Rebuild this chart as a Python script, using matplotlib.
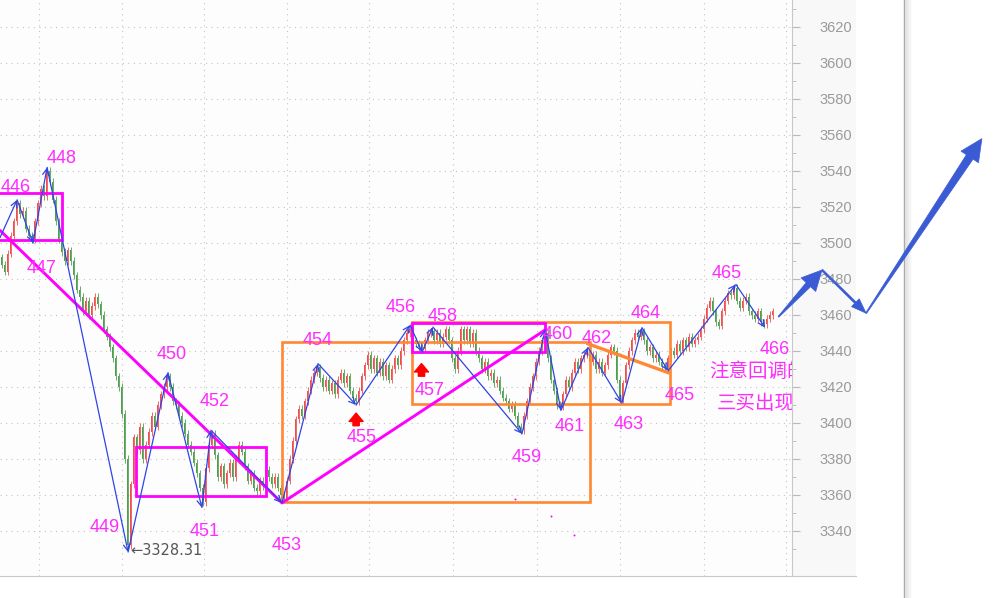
import matplotlib
matplotlib.use("Agg")
from matplotlib import pyplot as plt
from matplotlib.patches import Rectangle, Polygon
from matplotlib.lines import Line2D
import numpy as np

# candle closes, one per bar (bar step ~3px)
closes = [3488, 3484, 3494, 3504, 3512, 3522, 3516, 3518, 3508, 3504,
          3502, 3512, 3522, 3530, 3526, 3540, 3534, 3524, 3512, 3502,
          3495, 3490, 3496, 3490, 3482, 3474, 3470, 3462, 3468, 3460,
          3465, 3470, 3466, 3460, 3452, 3448, 3442, 3436, 3426, 3420,
          3405, 3380, 3332, 3366, 3392, 3385, 3398, 3380, 3388, 3395,
          3404, 3398, 3410, 3416, 3420, 3426, 3420, 3412, 3410, 3404,
          3400, 3394, 3388, 3384, 3378, 3372, 3364, 3356, 3375, 3388,
          3394, 3382, 3370, 3376, 3366, 3372, 3378, 3370, 3380, 3388,
          3384, 3376, 3368, 3372, 3364, 3362, 3368, 3365, 3374, 3370,
          3366, 3370, 3364, 3360, 3358, 3368, 3380, 3390, 3402, 3408,
          3404, 3412, 3418, 3424, 3428, 3431, 3425, 3420, 3424, 3418,
          3422, 3416, 3424, 3428, 3422, 3426, 3418, 3414, 3412, 3418,
          3426, 3432, 3438, 3430, 3436, 3428, 3434, 3426, 3432, 3424,
          3430, 3436, 3432, 3440, 3446, 3450, 3452, 3446, 3444, 3442,
          3441, 3446, 3450, 3451, 3446, 3450, 3444, 3448, 3452, 3446,
          3436, 3430, 3440, 3452, 3446, 3452, 3444, 3450, 3440, 3436,
          3430, 3434, 3426, 3428, 3422, 3424, 3418, 3414, 3412, 3408,
          3410, 3404, 3398, 3396, 3404, 3412, 3420, 3426, 3434, 3440,
          3446, 3450, 3436, 3424, 3418, 3410, 3409, 3416, 3424, 3420,
          3428, 3434, 3430, 3436, 3438, 3440, 3434, 3438, 3430, 3434,
          3428, 3432, 3438, 3442, 3440, 3424, 3413, 3422, 3432, 3440,
          3446, 3450, 3448, 3451, 3446, 3440, 3442, 3436, 3438, 3434,
          3432, 3431, 3436, 3440, 3438, 3444, 3440, 3446, 3442, 3448,
          3444, 3446, 3448, 3452, 3458, 3464, 3468, 3462, 3456, 3454,
          3462, 3468, 3472, 3471, 3475, 3468, 3464, 3468, 3470, 3462,
          3460, 3458, 3462, 3456, 3455, 3458, 3460, 3462]
first_open = 3492

# zigzag pivots (bar, price) and labels
zz_x = [-0.5, 5.2, 10.5, 15.2, 42.2, 55.5, 66.8, 69.8, 93.5, 105.5, 118.2, 136.2,
        140.2, 143.8, 173.5, 181.2, 186.5, 195.5, 206.8, 213.5, 222.2, 244.8, 254.5]
zz_y = [3503, 3524, 3500, 3542, 3328.3, 3428, 3353, 3396, 3355.6, 3433, 3410, 3454.4,
        3439.4, 3453.3, 3394, 3451.7, 3407, 3442, 3411, 3453, 3429, 3477, 3453]

labels = ["446", "448", "447", "449", "450", "452", "451", "453", "454", "455", "456",
          "458", "457", "459", "460", "461", "462", "463", "464", "465", "465", "466"]
label_x = [4.8, 20.2, 13.2, 34.5, 56.8, 71.2, 67.8, 95.2, 105.5, 120.2, 133.2,
           147.2, 142.8, 175.2, 185.5, 189.5, 198.5, 209.2, 214.8, 226.2, 241.8, 257.8]
label_y = [3531, 3546.7, 3486, 3342.2, 3437.8, 3412.2, 3340, 3332.2, 3446.1, 3392.2, 3464.4,
           3459.4, 3417.8, 3380.6, 3449.4, 3397.8, 3447.2, 3398.9, 3461.1, 3415, 3483.3, 3440.6]

# segment lines
seg_x = [-0.5, 93.5, 181.2]
seg_y = [3507, 3355.6, 3451.7]
seg2_x = [195.5, 222.2]
seg2_y = [3444, 3428]

# central boxes: x0, x1, y0, y1
pink_boxes = [(-1, 20.2, 3501.7, 3527.8), (44.8, 88.2, 3359.4, 3386.7),
              (136.8, 181.2, 3439.4, 3455.6)]
orange_boxes = [(93.5, 196.2, 3356, 3445), (136.8, 222.8, 3410.6, 3456)]

buy_x = [118.2, 140.0]
buy_y = [3405.5, 3433.0]

dots_x = [171.2, 183.2, 190.8]
dots_y = [3357.8, 3348.3, 3337.8]

# projected path
proj_x = [259, 273.5, 288.2, 326.8]
proj_y = [3459, 3485, 3461, 3558]

low_x, low_y, low_text = 43.0, 3328.9, "\u2190" + "3328.31"

yticks = list(range(3340, 3621, 20))
xgrid = [12.5, 40, 67.5, 95, 122.5, 150.5, 178.5, 206, 234, 261.5]

MAG = "#ff00ff"
MAG_TXT = "#ff2cff"
ORG = "#ff8833"
BLUE = "#2f44e6"
ARROW_BLUE = "#3a5bd3"

W, H = 1002, 598
fig = plt.figure(figsize=(W / 100, H / 100), dpi=100)
fig.patch.set_facecolor("white")
fig.patches.append(Rectangle((0, 22 / H), 856 / W, 576 / H, transform=fig.transFigure,
                             fc="#f8f8f8", ec="none", zorder=-10))
ax = fig.add_axes([0, 22 / H, 792 / W, 576 / H])
ax.set_facecolor("#fdfdfd")
ax.set_xlim(-0.5, 263.5)
ax.set_ylim(3315, 3635)

# grid
for v in yticks:
    ax.axhline(v, color="#c4c4c4", lw=0.8, ls=(0, (1, 4)), zorder=0)
for g in xgrid:
    ax.axvline(g, color="#c4c4c4", lw=0.8, ls=(0, (1, 4)), zorder=0)

# candles
opens = [first_open] + closes[:-1]
for i, (o, c) in enumerate(zip(opens, closes)):
    col = "#ef4f4f" if c >= o else "#4f9f4f"
    lo, hi = min(o, c), max(o, c)
    ax.vlines(i, lo - 2, hi + 2, color=col, lw=0.6, zorder=2)
    ax.bar(i, max(hi - lo, 0.8), bottom=lo, width=0.6, color=col, lw=0, zorder=2)

# boxes
for x0, x1, y0, y1 in orange_boxes:
    ax.add_patch(Rectangle((x0, y0), x1 - x0, y1 - y0, fill=False, ec=ORG, lw=1.9, zorder=3))
for x0, x1, y0, y1 in pink_boxes:
    ax.add_patch(Rectangle((x0, y0), x1 - x0, y1 - y0, fill=False, ec=MAG, lw=2.0, zorder=3))

ax.plot(seg_x, seg_y, color=MAG, lw=2.1, zorder=4, solid_capstyle="round")
ax.plot(seg2_x, seg2_y, color=ORG, lw=2.4, zorder=4)

# zigzag strokes
for i in range(len(zz_x) - 1):
    ax.annotate("", xy=(zz_x[i + 1], zz_y[i + 1]), xytext=(zz_x[i], zz_y[i]),
                arrowprops=dict(arrowstyle="->,head_length=0.45,head_width=0.22",
                                color=BLUE, lw=0.9, shrinkA=0, shrinkB=0), zorder=5)

for t, x, y in zip(labels, label_x, label_y):
    ax.text(x, y, t, color=MAG_TXT, fontsize=13, family="Liberation Sans",
            ha="center", va="center", zorder=6)

ax.text(235.8, 3428.9, "注意回调的", color=MAG_TXT, fontsize=14, family=["Noto Sans CJK SC"],
        ha="left", va="center", zorder=6, clip_on=True)
ax.text(238.4, 3411.1, "三买出现.", color=MAG_TXT, fontsize=14, family=["Noto Sans CJK SC"],
        ha="left", va="center", zorder=6, clip_on=True)

ax.text(low_x, low_y, low_text, color="#555555", fontsize=10.5, family=["DejaVu Sans"],
        ha="left", va="center", zorder=6)

for x, y in zip(buy_x, buy_y):
    ax.annotate("", xy=(x, y), xytext=(x, y - 7),
                arrowprops=dict(arrowstyle="simple,head_length=0.6,head_width=1.0,tail_width=0.45",
                                fc="#ff0000", ec="#ff0000", mutation_scale=10,
                                shrinkA=0, shrinkB=0), zorder=6)

ax.scatter(dots_x, dots_y, s=2, color=MAG, zorder=6, lw=0)

# axes look
for s in ["top", "left"]:
    ax.spines[s].set_visible(False)
ax.spines["right"].set_color("#c8c8c8")
ax.spines["bottom"].set_color("#c8c8c8")
ax.set_xticks([])
ax.yaxis.tick_right()
ax.set_yticks(yticks)
ax.set_yticks(list(range(3330, 3631, 10)), minor=True)
ax.tick_params(axis="y", which="major", length=6, color="#b8b8b8", labelcolor="#9a9a9a",
               labelsize=10.5, pad=14)
ax.tick_params(axis="y", which="minor", length=3, color="#b8b8b8")
for lab in ax.get_yticklabels():
    lab.set_family("Liberation Sans")

fig.add_artist(Line2D([792 / W, 856 / W], [22 / H, 22 / H], color="#c8c8c8", lw=0.8))
# window edge with shadow
fig.add_artist(Line2D([904 / W, 904 / W], [0, 1], color="#a8a8a8", lw=1.0))
for k in range(1, 9):
    g = 0.86 + 0.0175 * k
    fig.add_artist(Line2D([(904 + k) / W] * 2, [0, 1], color=(g, g, g), lw=0.8))


def tapered_arrow(p0, p1, w0, w1, head_w, head_l, color):
    P = ax.transData.transform([p0, p1])
    a, b = P[0], P[1]
    d = b - a
    u = d / np.hypot(*d)
    n = np.array([-u[1], u[0]])
    base = b - u * head_l
    pts = [a + n * w0 / 2, base + n * w1 / 2, base + n * head_w / 2, b,
           base - n * head_w / 2, base - n * w1 / 2, a - n * w0 / 2]
    pts = fig.transFigure.inverted().transform(pts)
    fig.add_artist(Polygon(pts, closed=True, transform=fig.transFigure,
                           fc=color, ec=color, lw=0.5, zorder=10))


tapered_arrow((proj_x[0], proj_y[0]), (proj_x[1], proj_y[1]), 1, 6, 20, 20, ARROW_BLUE)
tapered_arrow((proj_x[1], proj_y[1]), (proj_x[2], proj_y[2]), 1.8, 2, 11, 15, ARROW_BLUE)
tapered_arrow((proj_x[2], proj_y[2]), (proj_x[3], proj_y[3]), 1, 8, 21, 22, ARROW_BLUE)

fig.savefig("out.png", dpi=100)
